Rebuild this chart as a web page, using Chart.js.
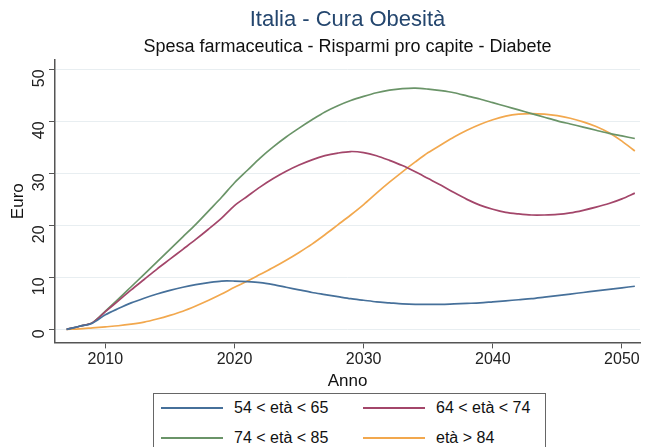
<!DOCTYPE html>
<html>
<head>
<meta charset="utf-8">
<script src="https://cdn.jsdelivr.net/npm/chart.js@4"></script>
<style>
  body { margin: 0; background: #fff; font-family: "Liberation Sans", Arial, sans-serif; }
  #wrap { position: relative; width: 645px; height: 447px; overflow: hidden; }
  #grafico { position: absolute; left: 0; top: 0; }
  #legenda { position: absolute; left: 153px; top: 393px; width: 393px; height: 70px;
             border: 1px solid #666; box-sizing: border-box; background: #fff; }
  .voce { position: absolute; font-size: 16px; color: #111; line-height: 18px; }
  .voce span.linea { position: absolute; left: 0; top: 8px; width: 62px; height: 0; border-top: 2px solid; }
  .voce span.testo { position: absolute; left: 73px; top: 0; white-space: nowrap; }
</style>
</head>
<body>
<div id="wrap">
  <canvas id="grafico" width="645" height="447"></canvas>
  <div id="legenda"></div>
</div>
<script>
const anni = [];
for (let a = 2007; a <= 2051; a++) anni.push(a);

const eta_54_65 = [0, 0.6, 1.2, 2.8, 4.0, 5.1, 6.0, 6.8, 7.5, 8.1, 8.6, 9.0, 9.3, 9.3, 9.2,
  9.0, 8.6, 8.1, 7.6, 7.1, 6.7, 6.3, 5.9, 5.6, 5.3, 5.1, 4.9, 4.8, 4.8, 4.8,
  4.9, 5.0, 5.1, 5.3, 5.5, 5.7, 5.9, 6.2, 6.5, 6.8, 7.1, 7.4, 7.7, 8.0, 8.3];
const eta_64_74 = [0, 0.6, 1.3, 3.4, 5.5, 7.6, 9.6, 11.6, 13.5, 15.4, 17.3, 19.3, 21.4, 23.8, 25.6,
  27.4, 29.0, 30.4, 31.6, 32.6, 33.4, 33.9, 34.2, 34.0, 33.4, 32.5, 31.5, 30.3, 29.0, 27.7,
  26.3, 25.0, 23.9, 23.1, 22.5, 22.2, 22.0, 22.0, 22.1, 22.4, 22.9, 23.5, 24.2, 25.1, 26.2];
const eta_74_85 = [0, 0.6, 1.3, 3.5, 5.8, 8.2, 10.6, 13.0, 15.4, 17.8, 20.2, 22.8, 25.4, 28.2, 30.6,
  33.0, 35.1, 37.0, 38.7, 40.3, 41.8, 43.0, 44.0, 44.8, 45.5, 46.0, 46.3, 46.4, 46.2, 45.9,
  45.5, 44.9, 44.3, 43.6, 42.9, 42.2, 41.5, 40.8, 40.1, 39.5, 38.9, 38.3, 37.7, 37.2, 36.7];
const eta_84 = [0, 0.1, 0.3, 0.5, 0.7, 1.0, 1.4, 2.0, 2.7, 3.5, 4.5, 5.6, 6.8, 8.1, 9.3,
  10.6, 11.9, 13.3, 14.8, 16.4, 18.2, 20.1, 22.0, 24.0, 26.2, 28.3, 30.3, 32.2, 34.0, 35.5,
  37.0, 38.3, 39.4, 40.3, 41.0, 41.4, 41.5, 41.4, 41.1, 40.6, 39.9, 39.0, 37.8, 36.2, 34.3];

const etichette = ["54 < età < 65", "64 < età < 74", "74 < età < 85", "età > 84"];
const colori = ["#46709a", "#a3466a", "#6a9468", "#f2a84e"];
const serie = [eta_54_65, eta_64_74, eta_74_85, eta_84];
const tick_x = [2010, 2020, 2030, 2040, 2050];
const tick_y = [0, 10, 20, 30, 40, 50];
const titolo = "Italia - Cura Obesità";
const sottotitolo = "Spesa farmaceutica - Risparmi pro capite - Diabete";

const datasets = serie.map((s, i) => ({
  label: etichette[i],
  data: s.map((v, j) => ({ x: anni[j], y: v })),
  borderColor: colori[i],
  borderWidth: 1.7,
  pointRadius: 0,
  tension: 0.3,
  fill: false
}));

const famiglia = "'Liberation Sans', Arial, sans-serif";
const font_tick = { family: famiglia, size: 16 };
const font_titolo_asse = { family: famiglia, size: 17 };

// titoli centrati sull'area del grafico (come nell'originale)
const titoli = {
  id: "titoli",
  afterDraw(chart) {
    const ctx = chart.ctx;
    const cx = (chart.chartArea.left + chart.chartArea.right) / 2;
    ctx.save();
    ctx.textAlign = "center";
    ctx.textBaseline = "middle";
    ctx.fillStyle = "#24466e";
    ctx.font = "22px " + famiglia;
    ctx.fillText(titolo, cx, 20);
    ctx.fillStyle = "#111";
    ctx.font = "18px " + famiglia;
    ctx.fillText(sottotitolo, cx, 47);
    ctx.restore();
  }
};

new Chart(document.getElementById("grafico"), {
  type: "line",
  data: { datasets: datasets },
  plugins: [titoli],
  options: {
    responsive: false,
    animation: false,
    layout: { padding: { left: 4, right: 5, top: 60, bottom: 55 } },
    plugins: {
      legend: { display: false },
      tooltip: { enabled: false }
    },
    scales: {
      x: {
        type: "linear",
        min: 2006.1,
        max: 2051.4,
        afterBuildTicks: ax => { ax.ticks = tick_x.map(v => ({ value: v })); },
        grid: { drawOnChartArea: false, drawTicks: true, tickLength: 6, tickColor: "#555" },
        border: { color: "#555", width: 1.5 },
        ticks: { color: "#222", font: font_tick, padding: 2, callback: v => String(v) },
        title: { display: true, text: "Anno", color: "#111", font: font_titolo_asse, padding: { top: 0, bottom: 0 } }
      },
      y: {
        min: -2.5,
        max: 51.8,
        afterBuildTicks: ax => { ax.ticks = tick_y.map(v => ({ value: v })); },
        afterFit: ax => { ax.width = 51; },
        grid: { color: "#e8eef1", lineWidth: 1, tickLength: 6, tickColor: "#555" },
        border: { color: "#555", width: 1.5 },
        ticks: { color: "#222", font: font_tick, padding: 9, minRotation: 90, maxRotation: 90, callback: v => String(v) },
        title: { display: true, text: "Euro", color: "#111", font: font_titolo_asse, padding: { top: 4, bottom: 0 } }
      }
    }
  }
});

// legenda a due colonne, con riquadro
const leg = document.getElementById("legenda");
const pos = [[7, 5], [209, 5], [7, 35], [209, 35]];
etichette.forEach((t, i) => {
  const d = document.createElement("div");
  d.className = "voce";
  d.style.left = pos[i][0] + "px";
  d.style.top = pos[i][1] + "px";
  d.innerHTML = `<span class="linea" style="border-color:${colori[i]}"></span><span class="testo">${t}</span>`;
  leg.appendChild(d);
});
</script>
</body>
</html>
